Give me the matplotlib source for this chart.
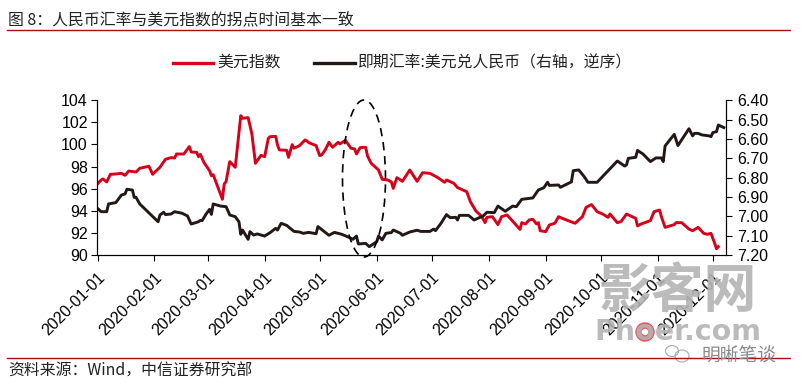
import numpy as np
import matplotlib
matplotlib.use('Agg')
import matplotlib.pyplot as plt
import matplotlib.dates as mdates
from matplotlib.lines import Line2D
from matplotlib.patches import Ellipse

# days since 2020-01-01
usd_days = [0, 2, 3, 5, 7, 10, 13, 15, 17, 21, 23, 28, 30, 34, 37, 40, 42, 43, 47, 50, 51, 54, 55, 56, 58, 61, 62, 63,
            68, 69, 70, 72, 75, 78, 79, 82, 84, 86, 89, 91, 93, 94, 97, 98, 99, 103, 104, 106, 107, 110, 113, 114, 115,
            119, 121, 122, 124, 126, 128, 131, 132, 135, 138, 140, 141, 143, 146, 147, 149, 153, 155, 158, 160, 161, 163,
            165, 166, 170, 174, 177, 181, 185, 189, 190, 194, 196, 201, 203, 206, 209, 211, 212, 215, 218, 220, 223,
            227, 230, 231, 233, 235, 237, 239, 240, 241, 244, 246, 249, 251, 253, 260, 264, 266, 269, 272, 275, 278,
            279, 283, 285, 288, 293, 294, 296, 301, 303, 306, 307, 309, 314, 315, 318, 322, 324, 327, 330, 332, 334,
            336, 337, 338]
usd_index = [96.43, 96.79, 96.88, 96.61, 97.30, 97.33, 97.39, 97.21, 97.60, 97.51, 97.85, 98.03, 97.30, 97.94, 98.66,
             98.81, 98.78, 99.14, 99.14, 99.81, 99.32, 99.29, 98.90, 99.11, 98.36, 97.63, 97.18, 97.27,
             95.04, 96.43, 96.64, 98.45, 97.94, 102.61, 102.37, 102.43, 101.01, 98.30, 99.02, 98.90, 100.56, 100.71,
             100.74, 99.96, 99.51, 99.48, 98.84, 99.99, 99.66, 99.90, 100.41, 100.32, 100.17,
             99.90, 98.99, 99.05, 99.51, 100.20, 99.75, 100.20, 100.05, 100.38, 99.66, 99.60, 99.14, 99.72, 99.75,
             98.96, 98.30, 97.69, 96.85, 96.79, 96.61, 96.03, 97.00,
             96.79, 96.67, 97.69, 96.67, 97.45, 97.39, 97.03, 96.58, 96.79, 96.49, 96.10, 95.73, 94.83, 93.98, 93.53,
             92.93, 93.41, 93.47, 92.75, 93.47, 93.62,
             92.87, 92.32, 92.93, 92.81, 93.17, 93.23, 92.81, 92.93, 92.20, 92.11, 92.72, 92.87, 93.47, 93.32, 92.87,
             93.47, 94.32, 94.56, 93.92, 93.71, 93.41,
             93.71, 92.93, 93.02, 93.71, 93.32, 92.63, 92.81, 93.11, 93.92, 94.07, 93.47, 92.50, 92.75, 92.93, 92.93,
             92.35, 92.20, 92.50, 91.96, 91.87, 91.96,
             91.06, 90.57, 90.75]

cny_days = [0, 2, 5, 6, 10, 13, 15, 16, 19, 20, 21, 23, 32, 33, 34, 36, 37, 40, 42, 46, 49, 51, 55, 56, 57, 59, 61, 62,
            63, 67, 70, 72, 75, 77, 78, 79, 82, 83, 85, 87, 91, 94, 97, 98, 100, 103, 107, 110, 112, 115, 119, 120, 126,
            129, 133, 137, 139, 141, 142, 146, 148, 152, 153, 155, 157, 160, 161, 165,
            166, 170, 174, 176, 181, 183, 184, 187, 190, 192, 195, 196, 197, 202, 205, 210, 212, 216, 218, 222, 226,
            228, 231, 237, 240, 243, 245, 246, 251, 252, 258, 259, 262, 265, 267, 272, 283, 287, 288, 289, 293, 294,
            297, 301, 304, 307, 308, 309, 314, 316, 322, 324, 325, 327, 329, 333, 334, 335, 337, 338, 341]
cny_spot = [6.959, 6.976, 6.976, 6.936, 6.929, 6.890, 6.884, 6.860, 6.864, 6.902, 6.902, 6.936, 7.019, 7.028, 6.993,
            6.979, 6.991, 6.988, 6.976, 6.984, 6.998, 7.040, 7.028, 7.021, 7.022, 6.990, 6.964, 6.990,
            6.936, 6.947, 6.950, 6.993, 7.002, 7.028, 7.093, 7.071, 7.119, 7.079, 7.097, 7.091, 7.102, 7.084, 7.062,
            7.071, 7.036, 7.047, 7.078, 7.081, 7.088, 7.083, 7.090, 7.053, 7.098,
            7.083, 7.093, 7.109, 7.119, 7.102, 7.143, 7.140, 7.157, 7.131, 7.102, 7.122, 7.088, 7.084, 7.071, 7.088,
            7.098, 7.081, 7.072, 7.078, 7.078, 7.066, 7.074, 7.036, 6.991, 7.007, 7.005, 7.019, 6.995, 6.995, 7.019,
            6.998, 6.979, 6.981, 6.947, 6.974, 6.947,
            6.950, 6.912, 6.905, 6.864, 6.852, 6.824, 6.840, 6.838, 6.850, 6.822, 6.764, 6.760, 6.795, 6.824, 6.824,
            6.714, 6.740, 6.734, 6.700, 6.695, 6.659,
            6.678, 6.717, 6.698, 6.698, 6.717, 6.636, 6.576, 6.634, 6.547, 6.584, 6.571, 6.571, 6.579, 6.584, 6.588,
            6.567, 6.562, 6.528, 6.541]

left_ticks = [90, 92, 94, 96, 98, 100, 102, 104]
right_ticks = [6.4, 6.5, 6.6, 6.7, 6.8, 6.9, 7.0, 7.1, 7.2]
month_ticks = ['2020-%02d-01' % m for m in range(1, 13)]

title = '图 8：人民币汇率与美元指数的拐点时间基本一致'
source = '资料来源：Wind，中信证券研究部'
red = '#d7001b'
dark = '#231815'
rule = '#a80f0f'
cjk = ['Noto Sans CJK SC', 'DejaVu Sans']
W, H = 804, 387

plt.rcParams['font.family'] = ['Liberation Sans', 'Noto Sans CJK SC']

base = np.datetime64('2020-01-01')


def to_dates(days):
    return base + np.array(days, dtype='timedelta64[D]')


def px_ellipse(fig, x, y, w, h, **kw):
    # ellipse given in the picture's pixels
    fig.add_artist(Ellipse((x / W, 1 - y / H), w / W, h / H, transform=fig.transFigure, **kw))


def main():
    fig = plt.figure(figsize=(W / 100, H / 100), dpi=100)
    ax = fig.add_axes([97.5 / W, 1 - 255 / H, (725.7 - 97.5) / W, (255 - 100.3) / H])
    ax2 = ax.twinx()

    ax.plot(to_dates(usd_days), usd_index, color=red, lw=2.1, solid_joinstyle='round')
    ax2.plot(to_dates(cny_days), cny_spot, color=dark, lw=2.1, solid_joinstyle='round')

    ax.set_xlim(base, base + np.timedelta64(342, 'D'))
    ax.set_ylim(90, 104)
    ax2.set_ylim(7.2, 6.4)
    ax.set_yticks(left_ticks)
    ax2.set_yticks(right_ticks)
    ax2.set_yticklabels(['%.2f' % v for v in right_ticks])
    ax.set_xticks([mdates.date2num(np.datetime64(m)) for m in month_ticks])
    ax.set_xticklabels(month_ticks, rotation=45, ha='right', rotation_mode='anchor')

    for a in (ax, ax2):
        a.spines['top'].set_visible(False)
        a.tick_params(labelsize=11.5, length=4, width=0.8, pad=4, color='black')
    ax.tick_params(axis='y', pad=3)
    ax.tick_params(axis='x', labelsize=11.5, pad=7)

    # circle around the turning point
    px_ellipse(fig, 364, 178.5, 43, 157, fill=False, ec='black', lw=1.2, ls=(0, (5, 3.5)))

    # title, source and rules
    fig.text(8 / W, 1 - 20 / H, title, fontsize=11.4, family=cjk, color='#222222', va='center')
    fig.text(8 / W, 1 - 371 / H, source, fontsize=11.4, family=cjk, color='#222222', va='center')
    fig.add_artist(Line2D([7 / W, 790 / W], [1 - 29.5 / H] * 2, color=rule, lw=1))
    fig.add_artist(Line2D([7 / W, 790 / W], [1 - 357.5 / H] * 2, color=rule, lw=1))

    # legend
    fig.add_artist(Line2D([173 / W, 213 / W], [1 - 63 / H] * 2, color=red, lw=2.4))
    fig.text(217 / W, 1 - 62.5 / H, '美元指数', fontsize=11.4, family=cjk, va='center', color='#222222')
    fig.add_artist(Line2D([314 / W, 355 / W], [1 - 63 / H] * 2, color=dark, lw=2.4))
    fig.text(358 / W, 1 - 62.5 / H, '即期汇率:美元兑人民币（右轴，逆序）', fontsize=11.4, family=cjk, va='center',
             color='#222222')

    # watermark
    fig.text(677.5 / W, 1 - 291 / H, '影客网', fontsize=38, family=cjk, weight='bold', color='#b4b4b4',
             ha='center', va='center', alpha=0.9)
    fig.text(677.5 / W, 1 - 331.5 / H, 'Phoer.com', fontsize=20.5, family='DejaVu Sans', weight='bold',
             color='#b4b4b4', ha='center', va='center', alpha=0.9)
    px_ellipse(fig, 645, 332, 18, 18, color='#e8525a')
    px_ellipse(fig, 645, 332, 5, 5, color='white')
    px_ellipse(fig, 672, 351, 13, 11, fill=False, ec='#aaaaaa', lw=0.8)
    px_ellipse(fig, 682, 356, 14, 12, fill=False, ec='#aaaaaa', lw=0.8)
    fig.text(739 / W, 1 - 355.5 / H, '明晰笔谈', fontsize=13.5, family=cjk, color='#8a8a8a', ha='center', va='center')

    fig.savefig('out.png', dpi=100)


if __name__ == "__main__":
    main()
